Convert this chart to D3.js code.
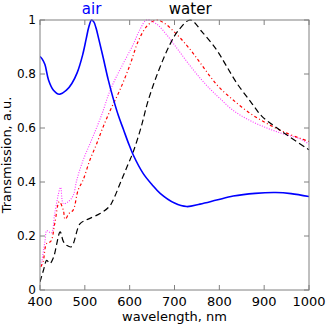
<!DOCTYPE html>
<html>
<head>
<meta charset="utf-8">
<script src="https://cdn.jsdelivr.net/npm/d3@7"></script>
<style>
    body { margin: 0; background: #fff; }
    text { font-family: "DejaVu Sans", sans-serif; }
</style>
</head>
<body>
<div id="chart"></div>
<script>
// axis ticks
const xTicks = [400, 500, 600, 700, 800, 900, 1000];
const yTicks = [0, 0.2, 0.4, 0.6, 0.8, 1];

// air (blue solid)
const airWl = [400, 405, 411, 419, 430, 443, 459, 471, 483, 495, 503, 509, 515, 520, 525, 531, 541, 552, 564, 575, 586, 597, 608, 630, 650, 668, 700, 727, 757, 794, 831, 880, 926, 960, 1000];
const airT = [0.865, 0.855, 0.835, 0.778, 0.74, 0.725, 0.74, 0.765, 0.805, 0.87, 0.93, 0.975, 1.0, 0.993, 0.97, 0.93, 0.86, 0.78, 0.705, 0.645, 0.595, 0.545, 0.5, 0.432, 0.39, 0.358, 0.322, 0.309, 0.318, 0.333, 0.348, 0.358, 0.361, 0.357, 0.346];

// water (black dashed)
const waterWl = [400, 408, 415, 422, 430, 445, 452, 460, 470, 489, 504, 534, 555, 565, 580, 595, 608, 625, 641, 664, 690, 708, 735, 762, 794, 815, 839, 870, 894, 920, 951, 1000];
const waterT = [0.03, 0.075, 0.11, 0.098, 0.12, 0.215, 0.18, 0.165, 0.16, 0.245, 0.26, 0.283, 0.31, 0.34, 0.4, 0.46, 0.512, 0.6, 0.7, 0.81, 0.91, 0.96, 1.0, 0.955, 0.889, 0.832, 0.766, 0.697, 0.645, 0.61, 0.574, 0.519];

// red dash-dot
const redWl = [402, 407, 415, 424, 433, 443, 452, 456, 465, 474, 485, 496, 511, 526, 541, 558, 578, 601, 620, 640, 660, 680, 700, 720, 740, 760, 780, 800, 830, 868, 906, 943, 980, 1000];
const redT = [0.086, 0.105, 0.173, 0.18, 0.247, 0.327, 0.296, 0.262, 0.284, 0.296, 0.37, 0.407, 0.48, 0.54, 0.605, 0.67, 0.74, 0.835, 0.925, 0.98, 1.0, 0.985, 0.955, 0.92, 0.88, 0.835, 0.79, 0.75, 0.705, 0.655, 0.617, 0.586, 0.562, 0.55];

// magenta dotted
const magWl = [403, 411, 415, 420, 426, 433, 446, 452, 463, 474, 482, 496, 511, 526, 540, 552, 566, 586, 608, 623, 638, 660, 685, 710, 735, 757, 779, 801, 831, 868, 906, 943, 980, 1000];
const magT = [0.093, 0.18, 0.22, 0.215, 0.212, 0.285, 0.38, 0.32, 0.327, 0.35, 0.407, 0.48, 0.54, 0.6, 0.66, 0.72, 0.775, 0.84, 0.91, 0.965, 1.0, 0.985, 0.94, 0.885, 0.83, 0.785, 0.745, 0.71, 0.665, 0.628, 0.6, 0.578, 0.56, 0.54];

const W = 327, H = 324;
const margin = { top: 20, right: 18, bottom: 34, left: 40 };
const w = W - margin.left - margin.right;
const h = H - margin.top - margin.bottom;

const svg = d3.select("#chart")
    .append("svg")
    .attr("width", W)
    .attr("height", H);

const x = d3.scaleLinear().domain([400, 1000]).range([0, w]);
const y = d3.scaleLinear().domain([0, 1]).range([h, 0]);

const g = svg.append("g")
    .attr("transform", `translate(${margin.left},${margin.top})`);

g.append("defs").append("clipPath")
    .attr("id", "clip")
    .append("rect")
    .attr("x", 0).attr("y", -1)
    .attr("width", w).attr("height", h + 1);

const line = d3.line()
    .x(d => x(d[0]))
    .y(d => y(d[1]))
    .curve(d3.curveCatmullRom.alpha(0.5));

const series = [
    { wl: magWl, t: magT, color: "#ff33ff", dash: "1,1.5", width: 1.1 },
    { wl: redWl, t: redT, color: "#ff0000", dash: "3,2.5,1,2.5", width: 1.2 },
    { wl: waterWl, t: waterT, color: "#000000", dash: "6,3.5", width: 1.2 },
    { wl: airWl, t: airT, color: "#0000ff", dash: null, width: 1.6 }
];

const plot = g.append("g").attr("clip-path", "url(#clip)");

series.forEach(s => {
    plot.append("path")
        .datum(d3.zip(s.wl, s.t))
        .attr("fill", "none")
        .attr("stroke", s.color)
        .attr("stroke-width", s.width)
        .attr("stroke-dasharray", s.dash)
        .attr("d", line);
});

// frame + inward ticks on all sides
const frameColor = "#808080";
const tickLen = 5;

g.append("rect")
    .attr("width", w).attr("height", h)
    .attr("fill", "none")
    .attr("stroke", frameColor)
    .attr("stroke-width", 1);

const ticks = g.append("g").attr("stroke", frameColor).attr("stroke-width", 1);
xTicks.forEach(v => {
    ticks.append("line").attr("x1", x(v)).attr("x2", x(v)).attr("y1", h).attr("y2", h - tickLen);
    ticks.append("line").attr("x1", x(v)).attr("x2", x(v)).attr("y1", 0).attr("y2", tickLen);
});
yTicks.forEach(v => {
    ticks.append("line").attr("x1", 0).attr("x2", tickLen).attr("y1", y(v)).attr("y2", y(v));
    ticks.append("line").attr("x1", w).attr("x2", w - tickLen).attr("y1", y(v)).attr("y2", y(v));
});

g.selectAll(".xlab")
    .data(xTicks)
    .enter().append("text")
    .attr("x", d => x(d))
    .attr("y", h + 16)
    .attr("text-anchor", "middle")
    .attr("font-size", "13px")
    .text(d => d);

g.selectAll(".ylab")
    .data(yTicks)
    .enter().append("text")
    .attr("x", -4)
    .attr("y", d => y(d) + 4)
    .attr("text-anchor", "end")
    .attr("font-size", "12px")
    .text(d => d);

g.append("text")
    .attr("x", w / 2)
    .attr("y", h + 31)
    .attr("text-anchor", "middle")
    .attr("font-size", "13px")
    .text("wavelength, nm");

g.append("text")
    .attr("transform", `translate(${-29},${h / 2}) rotate(-90)`)
    .attr("text-anchor", "middle")
    .attr("font-size", "13px")
    .text("Transmission, a.u.");

// labels over the two peaks
g.append("text")
    .attr("x", x(airWl[airT.indexOf(d3.max(airT))]))
    .attr("y", -6)
    .attr("text-anchor", "middle")
    .attr("font-size", "15px")
    .attr("fill", "#0000ff")
    .text("air");

g.append("text")
    .attr("x", x(waterWl[waterT.indexOf(d3.max(waterT))]))
    .attr("y", -6)
    .attr("text-anchor", "middle")
    .attr("font-size", "15px")
    .attr("fill", "#000")
    .text("water");
</script>
</body>
</html>
